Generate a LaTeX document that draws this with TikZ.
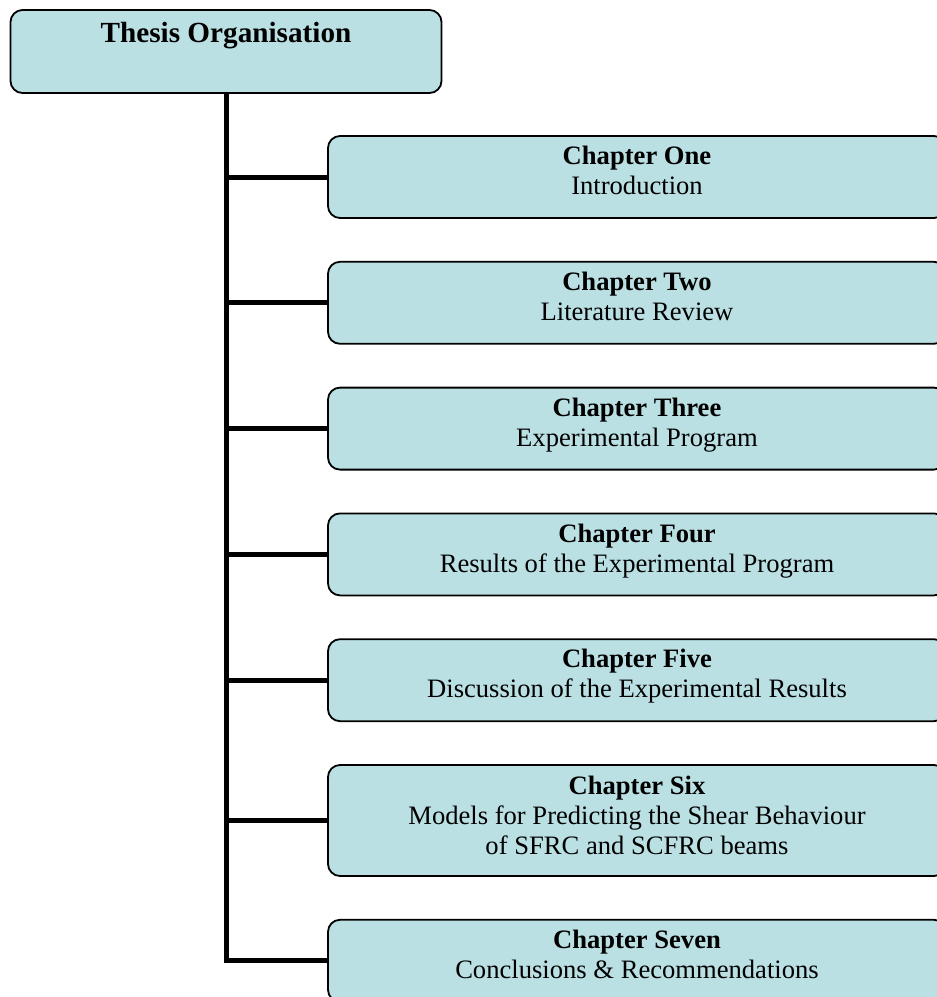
\documentclass[tikz,border=0pt]{standalone}
\usepackage{fontspec}
\setmainfont{Liberation Serif}
\usetikzlibrary{positioning}

\definecolor{boxfill}{RGB}{186,224,227}

\begin{document}
\begin{tikzpicture}[
    x=0.5pt, y=-0.5pt,
    % Node styles
    titlebox/.style={
        rectangle, rounded corners=6pt, draw=black, line width=0.9pt,
        fill=boxfill, minimum width=215.5pt, minimum height=41.5pt,
        font=\fontsize{14.6}{17}\selectfont\bfseries, align=center,
        text height=10pt, text depth=19pt
    },
    chapbox/.style={
        rectangle, rounded corners=6pt, draw=black, line width=0.9pt,
        fill=boxfill, minimum width=309pt, minimum height=41pt,
        font=\fontsize{13.3}{15}\selectfont, align=center,
        text depth=6.6pt
    },
    spine/.style={line width=2.5pt, black, line join=miter},
    node distance=21pt
]

\useasboundingbox (0,0) rectangle (937,997);
\clip (0,0) rectangle (937,997);

% ============================================================
% Boxes
% ============================================================

\node[titlebox] (thesis) at (226,51.5) {Thesis Organisation};

\node[chapbox] (ch1) at (637,177) {\textbf{Chapter One}\\Introduction};
\node[chapbox, below=of ch1] (ch2) {\textbf{Chapter Two}\\Literature Review};
\node[chapbox, below=of ch2] (ch3) {\textbf{Chapter Three}\\Experimental Program};
\node[chapbox, below=of ch3] (ch4) {\textbf{Chapter Four}\\Results of the Experimental Program};
\node[chapbox, below=of ch4] (ch5) {\textbf{Chapter Five}\\Discussion of the Experimental Results};
\node[chapbox, below=of ch5, minimum height=55.5pt, text depth=5.1pt] (ch6)
    {\textbf{Chapter Six}\\Models for Predicting the Shear Behaviour\\of SFRC and SCFRC beams};
\node[chapbox, below=of ch6] (ch7) {\textbf{Chapter Seven}\\Conclusions \& Recommendations};

% ============================================================
% Connectors
% ============================================================

% Main spine down to the last chapter
\draw[spine] (thesis.south) -- (thesis.south |- ch7.west) -- (ch7.west);

% Branches
\draw[spine] (thesis.south |- ch1.west) -- (ch1.west);
\draw[spine] (thesis.south |- ch2.west) -- (ch2.west);
\draw[spine] (thesis.south |- ch3.west) -- (ch3.west);
\draw[spine] (thesis.south |- ch4.west) -- (ch4.west);
\draw[spine] (thesis.south |- ch5.west) -- (ch5.west);
\draw[spine] (thesis.south |- ch6.west) -- (ch6.west);

\end{tikzpicture}
\end{document}
